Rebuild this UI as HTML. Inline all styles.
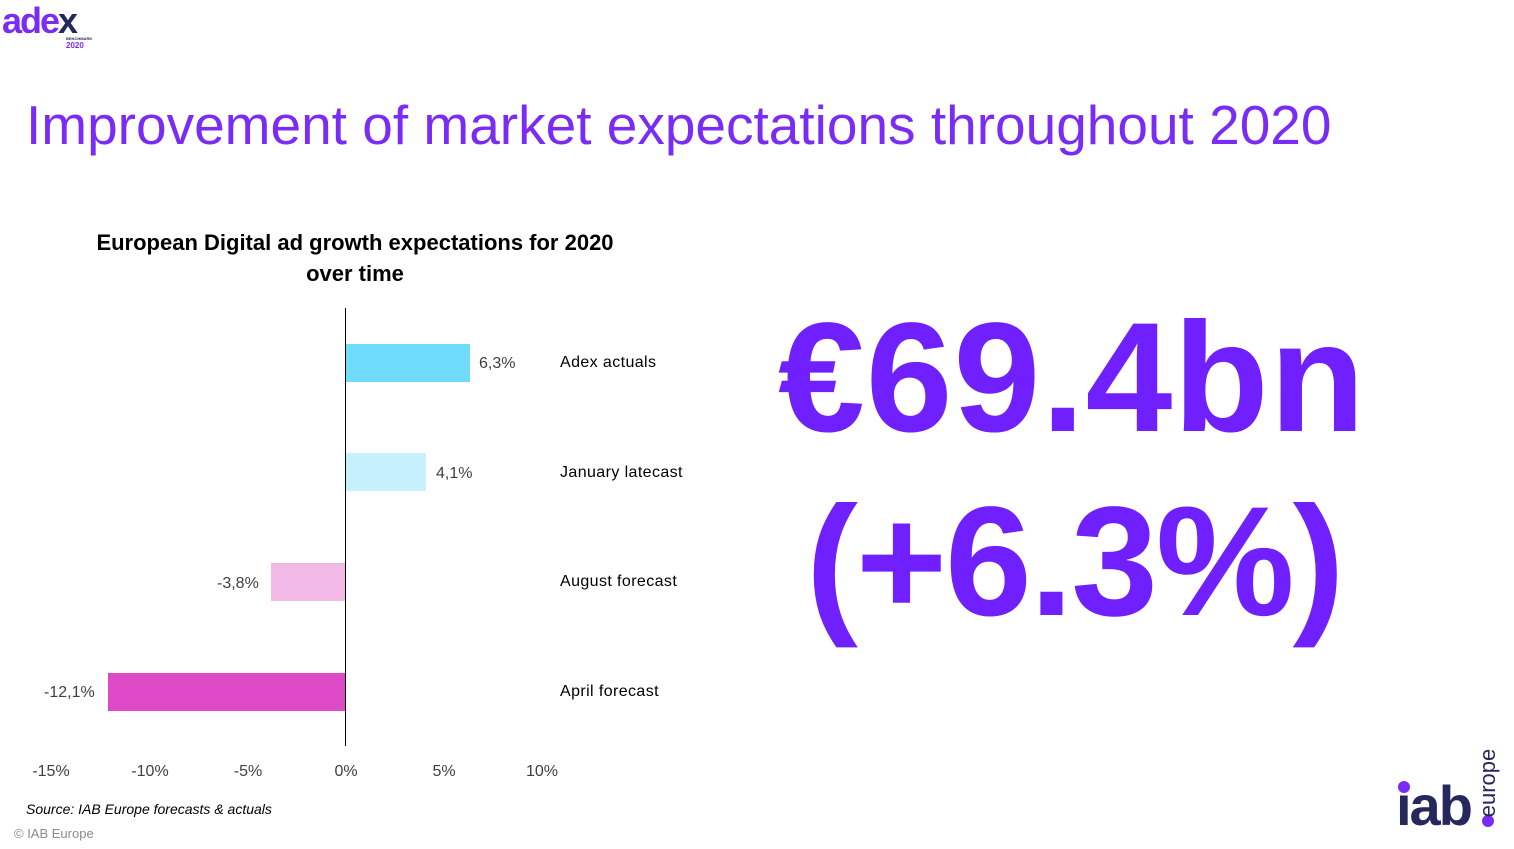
<!DOCTYPE html>
<html><head><meta charset="utf-8"><style>
body{margin:0;width:1514px;height:849px;background:#fff;position:relative;overflow:hidden;font-family:"Liberation Sans",sans-serif}
.a{position:absolute;white-space:nowrap}
.bar{position:absolute;height:38px}
.lbl{position:absolute;font-size:16px;color:#000;white-space:nowrap}
.val{position:absolute;font-size:16px;color:#404040;white-space:nowrap}
.tick{position:absolute;top:763px;font-size:16px;color:#404040;width:60px;text-align:center}
.big{position:absolute;font-weight:bold;color:#7020ff;white-space:nowrap;font-size:156px;line-height:1}
</style></head><body>
<div class="a" style="left:2px;top:0px;font-size:36px;font-weight:bold;color:#7a2cf5;letter-spacing:-2px">ade<span style="color:#26275a">x</span></div>
<div class="a" style="left:66px;top:36px;font-size:4px;color:#26275a;font-weight:bold">BENCHMARK</div>
<div class="a" style="left:66px;top:41px;font-size:8px;color:#7a2cf5;font-weight:bold">2020</div>

<div class="a" style="left:26px;top:93px;font-size:55px;color:#7a2cf5;letter-spacing:0px">Improvement of market expectations throughout 2020</div>

<div class="a" style="left:40px;top:227px;width:630px;text-align:center;font-size:22px;font-weight:bold;line-height:31px;white-space:normal">European Digital ad growth expectations for 2020<br>over time</div>

<div style="position:absolute;left:345px;top:308px;width:1px;height:438px;background:#000"></div>
<div class="bar" style="left:346px;top:344px;width:124px;background:#6fdcfd"></div>
<div class="bar" style="left:346px;top:453px;width:80px;background:#c7f0fd"></div>
<div class="bar" style="left:271px;top:563px;width:74px;background:#f0b9e6"></div>
<div class="bar" style="left:108px;top:673px;width:237px;background:#de4ac6"></div>

<div class="val" style="left:479px;top:355px">6,3%</div>
<div class="val" style="left:436px;top:465px">4,1%</div>
<div class="val" style="left:217px;top:575px">-3,8%</div>
<div class="val" style="left:44px;top:684px">-12,1%</div>

<div class="lbl" style="left:560px;top:354px;letter-spacing:0.4px">Adex actuals</div>
<div class="lbl" style="left:560px;top:464px;letter-spacing:0.4px">January latecast</div>
<div class="lbl" style="left:560px;top:573px;letter-spacing:0.4px">August forecast</div>
<div class="lbl" style="left:560px;top:683px;letter-spacing:0.4px">April forecast</div>

<div class="tick" style="left:21px">-15%</div>
<div class="tick" style="left:120px">-10%</div>
<div class="tick" style="left:218px">-5%</div>
<div class="tick" style="left:316px">0%</div>
<div class="tick" style="left:414px">5%</div>
<div class="tick" style="left:512px">10%</div>

<div class="a" style="left:26px;top:801px;font-size:14px;font-style:italic">Source: IAB Europe forecasts &amp; actuals</div>
<div class="a" style="left:14px;top:826px;font-size:13px;color:#8a8a8a">© IAB Europe</div>

<div class="big" style="left:778px;top:300px;letter-spacing:1px">€69.4bn</div>
<div class="big" style="left:806px;top:484px;letter-spacing:-2px">(+6.3%)</div>

<div class="a" style="left:1396px;top:778px;font-size:56px;font-weight:bold;color:#26275a;letter-spacing:-2px;line-height:56px">ıab</div>
<div style="position:absolute;left:1398px;top:781px;width:12px;height:12px;border-radius:50%;background:#7a2cf5"></div>
<div style="position:absolute;left:1482px;top:815px;width:12px;height:12px;border-radius:50%;background:#7a2cf5"></div>
<div class="a" style="left:1453px;top:770px;font-size:22px;color:#26275a;transform:rotate(-90deg);transform-origin:center;width:70px;text-align:center">europe</div>
</body></html>
